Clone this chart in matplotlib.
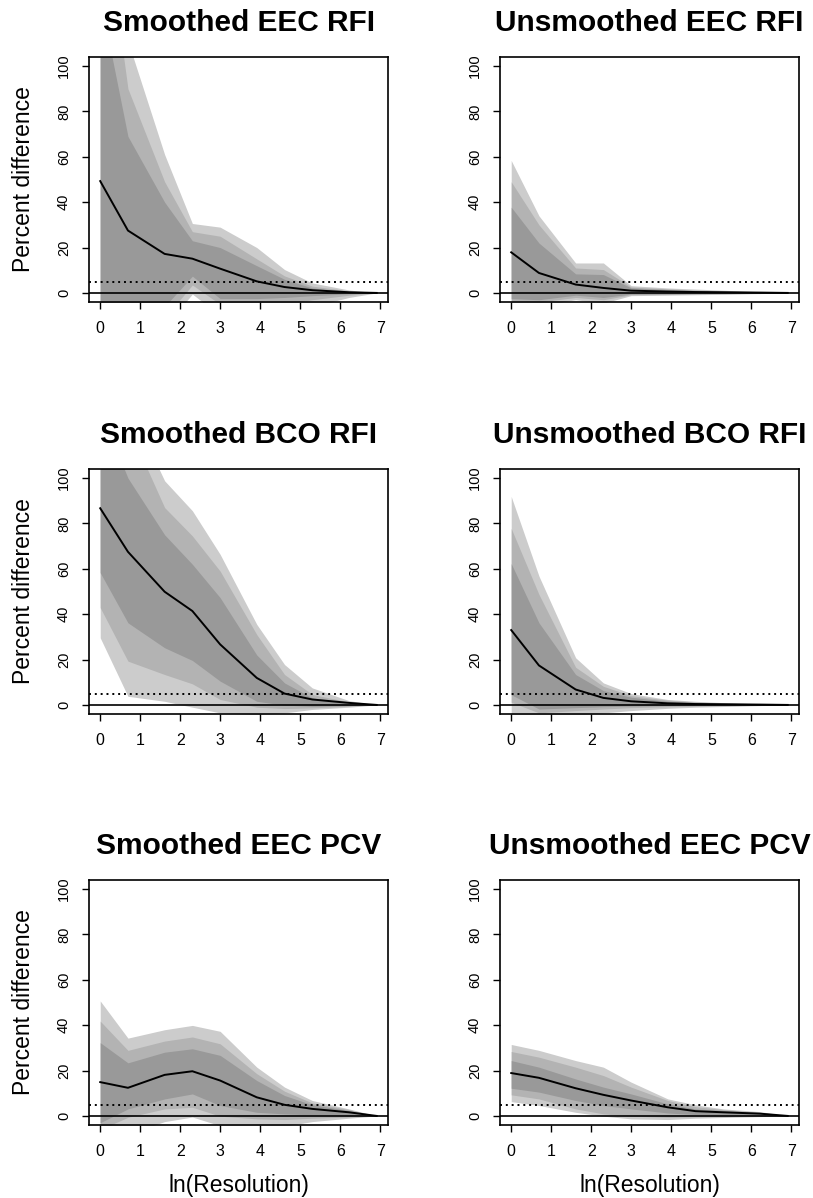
import numpy as np
import matplotlib
matplotlib.use("Agg")
import matplotlib.pyplot as plt

plt.rcParams["font.family"] = ["Liberation Sans", "DejaVu Sans"]

# resolutions 1,2,5,...,1000 on a log scale
resolution = [1, 2, 5, 10, 20, 50, 100, 200, 500, 1000]
x = np.log(resolution)

titles = ["Smoothed EEC RFI", "Unsmoothed EEC RFI",
          "Smoothed BCO RFI", "Unsmoothed BCO RFI",
          "Smoothed EEC PCV", "Unsmoothed EEC PCV"]

# median lines
s_eec_rfi_med = [49.3, 27.5, 17.2, 15.1, 10.7, 5.1, 2.6, 1.2, 0.3, 0]
u_eec_rfi_med = [17.9, 8.8, 3.7, 2.2, 1.0, 0.6, 0.4, 0.3, 0.15, 0]
s_bco_rfi_med = [86.7, 67.5, 49.9, 41.4, 26.7, 11.9, 5.0, 2.4, 0.9, 0]
u_bco_rfi_med = [33.0, 17.4, 6.8, 3.1, 1.6, 0.7, 0.4, 0.3, 0.15, 0]
s_eec_pcv_med = [14.9, 12.4, 18.1, 19.7, 15.6, 8.2, 4.9, 3.1, 1.6, 0]
u_eec_pcv_med = [18.9, 16.8, 12.2, 9.3, 6.8, 3.8, 2.1, 1.6, 1.0, 0]

# band edges, inner -> outer
s_eec_rfi_hi = [[130, 69, 40, 23, 20, 12, 6.0, 2.2, 0.6, 0],
                [180, 90, 49, 27, 25, 15, 7.5, 3.0, 0.9, 0],
                [220, 111, 61, 30.6, 29, 20, 10.3, 4.4, 1.3, 0]]
s_eec_rfi_lo = [[-20, -10, -6, 7.4, -2.5, -2.5, -2.0, -1.2, -0.4, 0],
                [-25, -15, -11, 3.5, -5, -6, -5, -3, -1, 0],
                [-30, -20, -15, -0.5, -10, -10, -8, -6, -2, 0]]

u_eec_rfi_hi = [[37.8, 22, 8.4, 8.1, 2.2, 1.5, 1.0, 0.7, 0.3, 0],
                [49, 30, 11, 10.3, 2.6, 1.8, 1.3, 0.9, 0.4, 0],
                [58.4, 34, 13.2, 13.2, 3.2, 2.2, 1.7, 1.2, 0.5, 0]]
u_eec_rfi_lo = [[-2.5, -3, -1, -2, -0.5, -0.4, -0.3, -0.2, -0.1, 0],
                [-3.5, -4, -2, -3, -0.8, -0.7, -0.5, -0.4, -0.2, 0],
                [-5, -5.5, -3, -4.5, -1.2, -1.0, -0.8, -0.6, -0.3, 0]]

s_bco_rfi_hi = [[130, 100, 75, 62, 47.3, 22, 9.7, 3.1, 0.9, 0],
                [150, 123, 87, 74.5, 59, 31, 13.4, 4.6, 1.3, 0],
                [170, 133, 98.8, 85.6, 66.4, 35.5, 17.8, 7.5, 1.9, 0]]
s_bco_rfi_lo = [[58.3, 36.2, 25.2, 19.6, 10.5, 1.6, -0.1, -0.6, -0.3, 0],
                [42.9, 19.3, 13.4, 9.3, 2.4, -1.0, -1.6, -1.3, -0.6, 0],
                [29.6, 3.8, 1.6, -1.0, -3.5, -4.3, -3.5, -2.0, -1.0, 0]]

u_bco_rfi_hi = [[62.3, 36.2, 13.4, 6.3, 3.4, 1.6, 1.0, 0.6, 0.3, 0],
                [77.8, 48.7, 16.6, 8.2, 4.1, 2.1, 1.3, 0.8, 0.4, 0],
                [91.9, 56.8, 20.8, 9.7, 5.0, 2.4, 1.6, 1.0, 0.5, 0]]
u_bco_rfi_lo = [[4.5, -1.8, -1.2, -0.8, -0.5, -0.3, -0.2, -0.15, -0.1, 0],
                [1.2, -3.5, -2.5, -1.8, -1.2, -0.8, -0.6, -0.4, -0.2, 0],
                [-6, -6, -4.5, -3.5, -2.5, -1.5, -1.0, -0.7, -0.3, 0]]

s_eec_pcv_hi = [[32.3, 23.4, 28.1, 29.6, 26.7, 15.6, 9.0, 4.9, 2.4, 0],
                [41.8, 28.9, 33.0, 34.8, 31.8, 18.6, 10.9, 5.7, 2.8, 0],
                [50.7, 34.3, 38.0, 39.9, 37.3, 21.5, 12.7, 6.8, 3.1, 0]]
s_eec_pcv_lo = [[-3, 3.1, 7.5, 9.7, 4.6, 1.6, 0.9, 0.5, 0.2, 0],
                [-6, -0.6, 3.1, 3.8, -0.1, -1.3, -1.6, -1.0, -0.5, 0],
                [-15, -8, -2.5, -0.5, -4.3, -5, -4.5, -2.5, -1.0, 0]]

u_eec_pcv_hi = [[24.4, 21.5, 16.3, 12.7, 9.7, 5.3, 3.1, 2.4, 1.5, 0],
                [28.4, 25.9, 21.5, 17.8, 12.7, 6.8, 4.1, 2.8, 1.6, 0],
                [31.5, 28.9, 24.4, 21.5, 14.9, 7.5, 4.9, 3.1, 1.9, 0]]
u_eec_pcv_lo = [[12.2, 10.5, 6.8, 4.6, 3.1, 1.3, 0.6, 0.3, 0.1, 0],
                [9.3, 7.5, 3.1, 0.9, -0.1, -0.6, -0.4, -0.3, -0.1, 0],
                [6.3, 4.6, 1.6, -0.1, -1.3, -1.6, -1.0, -0.7, -0.3, 0]]

medians = [s_eec_rfi_med, u_eec_rfi_med, s_bco_rfi_med,
           u_bco_rfi_med, s_eec_pcv_med, u_eec_pcv_med]
uppers = [s_eec_rfi_hi, u_eec_rfi_hi, s_bco_rfi_hi,
          u_bco_rfi_hi, s_eec_pcv_hi, u_eec_pcv_hi]
lowers = [s_eec_rfi_lo, u_eec_rfi_lo, s_bco_rfi_lo,
          u_bco_rfi_lo, s_eec_pcv_lo, u_eec_pcv_lo]

band_cols = ["#999999", "#b3b3b3", "#cccccc"]  # inner -> outer

W, H = 813, 1198
fig = plt.figure(figsize=(W / 100, H / 100), dpi=100)

col_left = [89, 500]
row_top = [57, 469, 880]
aw, ah = 299, 245

for i in range(6):
    r, c = divmod(i, 2)
    ax = fig.add_axes([col_left[c] / W, 1 - (row_top[r] + ah) / H, aw / W, ah / H])

    # outer band first so inner ones sit on top
    for k in [2, 1, 0]:
        ax.fill_between(x, lowers[i][k], uppers[i][k], color=band_cols[k], lw=0)
    ax.plot(x, medians[i], color="black", lw=1.4)
    ax.axhline(0, color="black", lw=1.2)
    ax.axhline(5, color="black", lw=1.4, ls=(0, (1, 2)))

    ax.set_xlim(-0.28, 7.19)
    ax.set_ylim(-4, 104)
    ax.set_xticks(range(8))
    ax.set_yticks([0, 20, 40, 60, 80, 100])
    ax.tick_params(direction="out", length=5, width=1)
    ax.tick_params(axis="x", labelsize=11.5, pad=9)
    ax.tick_params(axis="y", labelsize=10.5, pad=8, labelrotation=90)
    for lab in ax.get_yticklabels():
        lab.set_va("center")
    for sp in ax.spines.values():
        sp.set_linewidth(1.2)

    ax.set_title(titles[i], fontsize=21.5, fontweight="bold", pad=19)
    if c == 0:
        ax.set_ylabel("Percent difference", fontsize=16.5)
        ax.yaxis.set_label_coords(-0.18, 0.5)
    if r == 2:
        ax.set_xlabel("ln(Resolution)", fontsize=16.5)
        ax.xaxis.set_label_coords(0.5, -0.2)

plt.savefig("out.png", dpi=100)
